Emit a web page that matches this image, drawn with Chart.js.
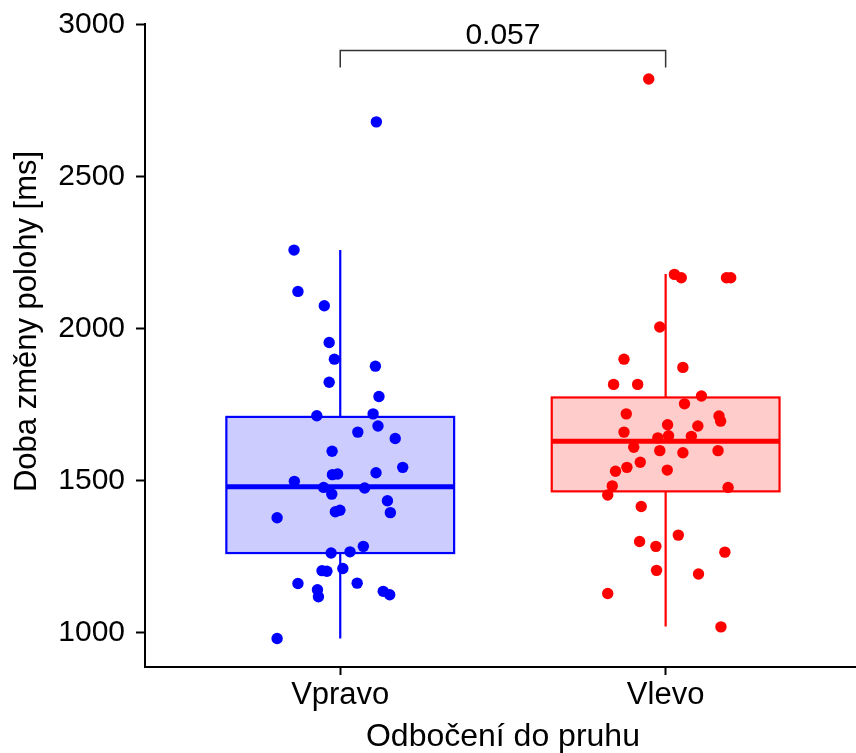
<!DOCTYPE html>
<html>
<head>
<meta charset="utf-8">
<script src="https://cdn.jsdelivr.net/npm/chart.js@4/dist/chart.umd.min.js"></script>
<style>
  html, body { margin: 0; padding: 0; background: #fff; overflow: hidden; }
</style>
</head>
<body>
<canvas id="box-chart" width="856" height="753"></canvas>
<script>
const categories = ['Vpravo', 'Vlevo'];
const colors = ['#0000ff', '#ff0000'];
const fills = ['rgba(0, 0, 255, 0.2)', 'rgba(255, 0, 0, 0.2)'];

// doba změny polohy [ms] a horizontální rozptyl bodů (posun od středu kategorie)
const vpravoValues = [2681, 2259, 2123, 2076, 1955, 1900, 1877, 1824, 1777, 1720, 1714, 1680, 1660, 1639,
  1597, 1544, 1526, 1520, 1522, 1498, 1478, 1476, 1456, 1434, 1395, 1398, 1403, 1378, 1284, 1262, 1266,
  1204, 1202, 1211, 1162, 1163, 1141, 1118, 1136, 1125, 981];
const vpravoJitter = [0.111, -0.142, -0.130, -0.049, -0.034, -0.018, 0.108, -0.034, 0.119, 0.101, -0.072,
  0.116, 0.054, 0.169, -0.025, 0.192, 0.110, -0.024, -0.008, -0.141, -0.051, 0.075, -0.026, 0.145, 0.154,
  -0.015, -0.001, -0.194, 0.071, -0.028, 0.030, -0.056, -0.041, 0.008, -0.130, 0.052, -0.070, -0.067,
  0.132, 0.152, -0.194];

const vlevoValues = [2822, 2179, 2168, 2168, 2168, 2006, 1900, 1873, 1817, 1817, 1779, 1753, 1720, 1713,
  1696, 1684, 1680, 1660, 1641, 1648, 1646, 1610, 1599, 1592, 1599, 1561, 1531, 1544, 1535, 1483, 1453,
  1478, 1415, 1321, 1300, 1284, 1265, 1205, 1193, 1129, 1019];
const vlevoJitter = [-0.052, 0.027, 0.048, 0.187, 0.200, -0.018, -0.128, 0.053, -0.160, -0.086, 0.110,
  0.058, -0.121, 0.164, 0.169, 0.006, 0.099, -0.128, -0.024, 0.009, 0.079, -0.098, -0.018, 0.053, 0.161,
  -0.078, -0.154, -0.119, 0.005, -0.164, -0.178, 0.192, -0.075, 0.039, -0.080, -0.030, 0.182, -0.028,
  0.101, -0.178, 0.170];

// krabice: dolní vous, Q1, medián, Q3, horní vous
const vpravoBox = [981, 1262, 1480, 1710, 2259];
const vlevoBox = [1020, 1465, 1630, 1774, 2180];

const yTicks = [1000, 1500, 2000, 2500, 3000];
const yTitle = 'Doba změny polohy [ms]';
const xTitle = 'Odbočení do pruhu';
const pValue = '0.057';
const bracketY = 2916;
const bracketTipY = 2860;

const FONT = 'Liberation Sans, Arial, sans-serif';
const BOX_WIDTH = 0.7;

const toPoints = (cat, values, jitter) => values.map((v, i) => ({ x: cat + jitter[i], y: v }));

const boxPlugin = {
  id: 'boxes',
  beforeDatasetsDraw(chart) {
    const { ctx, scales: { x, y } } = chart;
    [vpravoBox, vlevoBox].forEach((b, i) => {
      const cx = x.getPixelForValue(i + 1);
      const left = x.getPixelForValue(i + 1 - BOX_WIDTH / 2);
      const right = x.getPixelForValue(i + 1 + BOX_WIDTH / 2);
      const [lo, q1, med, q3, hi] = b.map(v => y.getPixelForValue(v));
      ctx.save();
      ctx.strokeStyle = colors[i];
      ctx.lineWidth = 2.2;
      ctx.beginPath();
      ctx.moveTo(cx, lo); ctx.lineTo(cx, q1);
      ctx.moveTo(cx, q3); ctx.lineTo(cx, hi);
      ctx.stroke();
      ctx.fillStyle = fills[i];
      ctx.fillRect(left, q3, right - left, q1 - q3);
      ctx.strokeRect(left, q3, right - left, q1 - q3);
      ctx.lineWidth = 5;
      ctx.beginPath();
      ctx.moveTo(left, med); ctx.lineTo(right, med);
      ctx.stroke();
      ctx.restore();
    });
  }
};

const bracketPlugin = {
  id: 'bracket',
  afterDatasetsDraw(chart) {
    const { ctx, scales: { x, y } } = chart;
    const x1 = x.getPixelForValue(1);
    const x2 = x.getPixelForValue(2);
    const top = y.getPixelForValue(bracketY);
    const tip = y.getPixelForValue(bracketTipY);
    ctx.save();
    ctx.strokeStyle = '#333';
    ctx.lineWidth = 1.5;
    ctx.beginPath();
    ctx.moveTo(x1, tip); ctx.lineTo(x1, top); ctx.lineTo(x2, top); ctx.lineTo(x2, tip);
    ctx.stroke();
    ctx.fillStyle = '#000';
    ctx.font = '30px ' + FONT;
    ctx.textAlign = 'center';
    ctx.textBaseline = 'alphabetic';
    ctx.fillText(pValue, (x1 + x2) / 2, top - 6);
    ctx.restore();
  }
};

// popisky os: y kousek nad středem panelu, x uprostřed mezi kategoriemi
const axisTitlePlugin = {
  id: 'axisTitles',
  afterDraw(chart) {
    const { ctx, chartArea, scales: { x } } = chart;
    ctx.save();
    ctx.fillStyle = '#000';
    ctx.textAlign = 'center';
    ctx.textBaseline = 'middle';
    ctx.font = '32px ' + FONT;
    ctx.fillText(xTitle, x.getPixelForValue(1.5), chart.height - 16);
    ctx.translate(27, (chartArea.top + chartArea.bottom) / 2 - 24);
    ctx.rotate(-Math.PI / 2);
    ctx.font = '31px ' + FONT;
    ctx.fillText(yTitle, 0, 0);
    ctx.restore();
  }
};

const ctx = document.getElementById('box-chart');

new Chart(ctx, {
  type: 'scatter',
  data: {
    datasets: [
      { label: categories[0], data: toPoints(1, vpravoValues, vpravoJitter), backgroundColor: colors[0], borderWidth: 0, pointRadius: 5.7 },
      { label: categories[1], data: toPoints(2, vlevoValues, vlevoJitter), backgroundColor: colors[1], borderWidth: 0, pointRadius: 5.7 }
    ]
  },
  options: {
    responsive: false,
    animation: false,
    layout: { autoPadding: false, padding: { top: 24, right: 0, bottom: 0, left: 0 } },
    plugins: {
      legend: { display: false },
      tooltip: { enabled: false }
    },
    scales: {
      x: {
        type: 'linear',
        min: 0.4,
        max: 2.585,
        afterBuildTicks: s => { s.ticks = categories.map((c, i) => ({ value: i + 1 })); },
        afterFit: s => { s.height = 86; s.paddingLeft = 0; s.paddingRight = 0; },
        grid: { drawOnChartArea: false, drawTicks: true, tickLength: 8, tickColor: '#000', tickWidth: 2 },
        border: { color: '#000', width: 2 },
        ticks: {
          callback: v => categories[v - 1],
          font: { family: FONT, size: 31 },
          color: '#000',
          padding: 2,
          maxRotation: 0
        },
        title: { display: false }
      },
      y: {
        min: 887,
        max: 3003,
        afterBuildTicks: s => { s.ticks = yTicks.map(v => ({ value: v })); },
        afterFit: s => { s.width = 145; s.paddingTop = 0; s.paddingBottom = 0; },
        grid: { drawOnChartArea: false, drawTicks: true, tickLength: 9, tickColor: '#000', tickWidth: 2 },
        border: { color: '#000', width: 2 },
        ticks: {
          callback: v => String(v),
          font: { family: FONT, size: 30 },
          color: '#000',
          padding: 11
        },
        title: { display: false }
      }
    }
  },
  plugins: [boxPlugin, bracketPlugin, axisTitlePlugin]
});
</script>
</body>
</html>
